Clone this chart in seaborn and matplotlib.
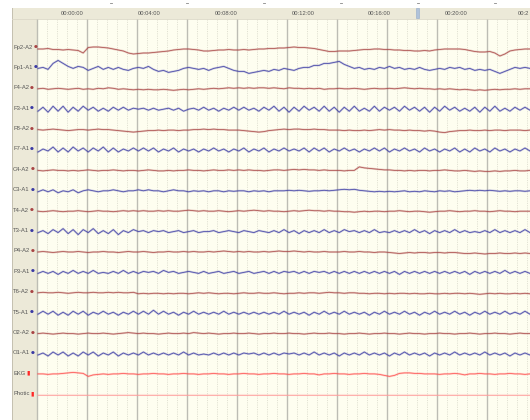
import numpy as np
import pandas as pd
import matplotlib
matplotlib.use('Agg')
import matplotlib.pyplot as plt
import seaborn as sns
from matplotlib.patches import Rectangle

# montage channels, top to bottom
channels = ['Fp2-A2', 'Fp1-A1', 'F4-A2', 'F3-A1', 'F8-A2', 'F7-A1', 'C4-A2', 'C3-A1',
            'T4-A2', 'T3-A1', 'P4-A2', 'P3-A1', 'T6-A2', 'T5-A1', 'O2-A2', 'O1-A1',
            'EKG', 'Photic']

# last one is cut by the right edge in the original
time_labels = ['00:00:00', '00:04:00', '00:08:00', '00:12:00', '00:16:00', '00:20:00', '00:2']

# trace amplitudes (up = positive)
fp2 = [-1, -1, -0.5, -1.5, -1.5, -2, -1.5, -2, -2.5, -5, 0.5, 1, 1, 0.5, 0, -1, -2, -3, -5, -6,
       -5.5, -5, -5, -4.5, -4, -3.5, -3, -2, -1.5, -1, -1, -1.5, -2, -3, -3, -2.5, -2, -2, -1.5, -2,
       -2, -1.5, -2, -1.5, -1, -1, -0.5, -0.5, 0, 0, 0.5, 1, 0.5, 0.5, 0, -0.5, -1.5, -2.5, -3.5, -3.5,
       -3, -3, -3, -2.5, -2, -1.5, -1.5, -1, -1, -1.5, -1.5, -2, -2, -2.5, -2.5, -3, -3, -2.5, -3, -2,
       -1.5, -1, -1, -1, -1, -1.5, -2.5, -3.5, -4, -4, -3.5, -5, -8, -6, -3, -2, -1.5, -1, -1]
fp1 = [0, 1, -1, 5, 8, 5, 2, 0, 2, 1, -2, 0, 2, -1, 1, -1, 1, -1, -2, 0,
       1, 0, 2, -1, -3, -2, -4, -3, -2, 0, 1, 0, -1, 0, -2, 0, 1, 2, 0, -2,
       -3, -3, -5, -4, -3, -2, -3, -1, -2, 0, -1, -2, 0, 1, 1, 3, 3, 5, 5, 6,
       7, 4, 2, 0, 1, -1, 0, -1, 1, 0, 2, 0, 1, -1, 0, -1, 1, -1, -2, -1,
       0, -1, 1, 0, 1, -1, 0, -2, -1, -2, -1, -3, -5, -3, -1, 1, 0, 1, 0]
f4 = [0, 0.5, -0.5, 0, 0.5, 0, -0.5, 0, 0.5, -0.5, 0, -0.5, 0.5, 0, 1, 0.5, -0.5, 0, -0.5, -1,
      -0.5, -1, -0.5, -1, -1, -0.5, -1, -1.5, -1, -0.5, -1, -0.5, 0, -0.5, 0, 0.5, 0, 0.5, 1, 0.5,
      1, 0.5, 1, 0.5, 1, 1, 0.5, 1, 0.5, 0, 1, 0.5, 0.5, 0, 0.5, 0, 0.5, -0.5, 0, 0,
      0.5, 0, 0, 0.5, 0, -0.5, 0, 0.5, 0, 0, 0.5, 0, 0.5, 1, 0.5, 0, 0.5, 0, 0, -0.5,
      0, -0.5, 0, -0.5, -1, -0.5, -1, -1.5, -1, -1.5, -1, -0.5, -1, -0.5, -0.5, 0, -0.5, 0, 0]
f3 = [-2, 2, -3, 3, -2, 3, -3, 2, -2, 3, -1, 2, -2, 1, -2, 2, -1, 2, -1, 1,
      0, 1, -1, 1, -1, 0, 1, -1, 1, -2, 0, 1, -1, 2, -1, 1, -2, 1, -1, 2,
      -1, 2, -1, 1, -2, 2, -1, 3, -2, 2, -3, 2, -2, 3, -1, 2, -2, 3, -2, 2,
      -3, 2, -2, 3, -2, 1, -2, 3, -2, 2, -1, 2, -2, 3, -1, 2, -2, 2, -3, 2,
      -2, 3, -1, 2, -2, 1, -2, 2, -3, 2, -2, 3, -2, 1, -2, 2, -1, 2, -1]
f8 = [0, -0.5, 0, 0.5, 0, -0.5, -1, -0.5, 0, 0, -0.5, 0, 0.5, 0, 0, -0.5, -1, -1.5, -2, -2.5,
      -2, -1.5, -1, -1, -0.5, -1, -0.5, -0.5, -1, -0.5, -0.5, 0, 0, 0.5, 0, 0.5, 0, 0, -0.5, -0.5,
      -0.5, -1, -1.5, -2, -2.5, -2, -1, -0.5, 0, 0.5, 0, 0.5, 0.5, 0, 0, 0.5, 0, 0, -0.5, -0.5,
      -0.5, -1, -0.5, -1, -1, -0.5, -1, -0.5, 0, -0.5, 0, -0.5, -0.5, -1, -0.5, -1, -1, -1.5, -1, -1.5,
      -2.5, -3, -2, -1.5, -1, -1, -0.5, -1, -1, -0.5, -1, -0.5, -0.5, -1, -0.5, -0.5, -0.5, -1, -0.5]
f7 = [-2, 1, -1, 3, -2, 2, -2, 3, -1, 2, -2, 2, -1, 3, -2, 2, -2, 1, -1, 2,
      -1, 2, -1, 2, -2, 1, -1, 2, -2, 1, -1, 1, -2, 1, -1, 2, -1, 1, -2, 1,
      -1, 2, -2, 1, -1, 2, -2, 1, -1, 2, -1, 1, -1, 2, -2, 2, -1, 2, -2, 1,
      -1, 2, -1, 1, -2, 1, -1, 2, -1, 2, -2, 1, -1, 2, -1, 1, -2, 2, -1, 1,
      -2, 1, -1, 2, -2, 1, -2, 2, -1, 1, -2, 2, -1, 1, -2, 1, -1, 2, -1]
c4 = [0, -0.5, 0, 0.5, 0, 0, -0.5, 0, -0.5, 0, 0.5, 0, -0.5, 0, 0, 0.5, 0, -0.5, 0, 0,
      -0.5, 0, 0.5, 0, -0.5, -0.5, 0, -0.5, 0, 0, 0.5, 0, 0, -0.5, 0, 0.5, 0, 0, 0.5, 0,
      0.5, 0, 0.5, 0, 0, -0.5, 0, 0.5, 0.5, 0, 0.5, 1, 0.5, 1, 0.5, 0.5, 0, 0.5, 0, 0,
      0, -0.5, 0, 0, 3.5, 2.5, 2, 1.5, 1, 0.5, 0.5, 0, 0, -0.5, 0, -0.5, 0, 0, -0.5, 0,
      0, 0.5, 0, -0.5, -0.5, 0, -0.5, -1, -0.5, -1, -1, -0.5, -1, -0.5, -0.5, 0, -0.5, -0.5, 0]
c3 = [-1, 1, -1, 1, -2, 0, -1, 1, -2, 0, 1, 0, -1, 0, 0, 1, 0, -1, 0, 0,
      1, 0, 1, 0, 0, -1, 0, 1, 0, 0, -1, 0, -0.5, 0, -1, 0, 0, -1, 0, -0.5,
      0, 0, -1, 0, -0.5, 0, -1, 0, 0, 0, 0.5, 0, 0.5, 0, -0.5, 0, 0, 0.5, 0, 0.5,
      1, 1.5, 1, 1.5, 0.5, 0, -0.5, -1, -0.5, -1, -0.5, -1, -0.5, 0, -1, -0.5, -1, 0, -0.5, -1,
      0, -0.5, 0, -1, -0.5, 0, 0.5, 0, 0.5, 0, 0.5, 0, -0.5, 0, -0.5, 0, 0, -0.5, 0]
t4 = [0, -0.5, 0, 0.5, 0, -0.5, 0, 0, 0.5, 0, -0.5, 0, 0.5, 0, 0, -0.5, 0, 0.5, 0, 0.5,
      0, 0.5, 0, 0, 0.5, 0, 0.5, 0, 0, 0.5, 1, 0.5, 0, 0.5, 0, 0, 0.5, 0, -0.5, 0,
      0.5, 0, 0.5, 1, 0.5, 0, 0.5, 0, 0, -0.5, 0, 0.5, 0, 0.5, 1, 0.5, 0.5, 0, 0.5, 0,
      0, -0.5, -0.5, -1, -0.5, 0, -0.5, 0, 0, -0.5, 0, 0, 0.5, 0, -0.5, 0, 0, -0.5, -1, -0.5,
      0, 0, 0.5, 0, -0.5, 0, 0, 0.5, 0, 0, -0.5, 0, 0.5, 0, 0, -0.5, 0, 0, 0]
t3 = [-1, 1, -2, 2, -1, 3, -2, 2, -3, 2, -1, 3, -2, 1, -2, 2, -3, 1, -1, 2,
      0, 1, -1, 1, 0, 1, -1, 0, 1, -1, 0, 1, -1, 0, 0, 1, -1, 0, 1, 0,
      -1, 1, 0, -1, 1, 0, -1, 1, -1, 2, -1, 1, -2, 1, -1, 1, -1, 2, -1, 1,
      -1, 2, 0, 1, -1, 1, -1, 2, -1, 0, -1, 1, -1, 1, -1, 2, -1, 1, -2, 1,
      -1, 1, -1, 2, -1, 1, -1, 0, -1, 1, -1, 2, -1, 1, -1, 1, -1, 2, -1]
p4 = [0, 0.5, 0, -0.5, 0, 0.5, 0, 0, 0.5, 0, -0.5, 0, 0, 0.5, 0, 0, -0.5, 0, 0.5, 0,
      0, 0.5, 0, -0.5, 0, 0, 0.5, 0, 0, 0.5, 0, 0.5, 0, 0, 0.5, 0, 0.5, 1, 0.5, 0,
      0.5, 0, 0.5, 0, 0, 0.5, 0, 0.5, 1, 0.5, 0.5, 1, 0.5, 0, 0.5, 0, 0, 0.5, 0, 0,
      0, 0.5, 0, 0, 0.5, 0, 0, -0.5, 0, 0, -0.5, -1, -1.5, -1, -0.5, -1, -0.5, -0.5, -1, -0.5,
      -0.5, -1, -0.5, -0.5, -1, -1.5, -1.5, -1, -1.5, -2, -1.5, -1.5, -1, -1.5, -1.5, -1, -1.5, -1, -1.5]
p3 = [-1, 1, -1, 1, -2, 1, -1, 2, -1, 1, -1, 2, -1, 0, -1, 1, -1, 2, -1, 1,
      -1, 1, 0, 1, -1, 2, 0, 1, -1, 0, 1, 0, -1, 1, -1, 0, 1, -1, 0, 1,
      -1, 0, 1, -1, 0, 1, -1, 1, -1, 1, 0, 1, -1, 1, -1, 1, 0, 1, -1, 1,
      -1, 1, -1, 1, -1, 1, -1, 1, -1, 1, -1, 1, -2, 1, -1, 1, -1, 1, -1, 1,
      -1, 1, -1, 1, -1, 1, -2, 1, -1, 1, -1, 1, -1, 2, -1, 1, -1, 1, -1]
t6 = [0, 0.5, 0, 0, 0.5, 0, -0.5, 0, 0.5, 0, 0, 0.5, 0, 0, 0.5, 0, 0.5, 0, 0, 0.5,
      -1, -0.5, -1, -0.5, -0.5, -1, -0.5, -1, -0.5, -0.5, -1, -0.5, 0, -0.5, 0, -0.5, -1, -0.5, -0.5, -1,
      -0.5, 0, -0.5, -0.5, 0, -0.5, -0.5, 0, -0.5, -1, -0.5, -0.5, 0, -0.5, 0, 0, -0.5, 0, 0.5, 0,
      0, -0.5, 0, 0, -0.5, -0.5, -1, -0.5, -0.5, -1, -0.5, -1, -0.5, -0.5, -1, -0.5, -1, -1, -0.5, -1,
      -1, -0.5, -1, -0.5, -0.5, -1, -0.5, -1, -1.5, -1, -0.5, -1, -0.5, -1, -1, -0.5, -1, -0.5, -1]
t5 = [-1, 2, -1, 2, -2, 1, -2, 2, -1, 2, -2, 1, -1, 2, -1, 1, -2, 1, -1, 2,
      -1, 2, -1, 3, -1, 2, -1, 1, -2, 1, -1, 2, -1, 1, -1, 1, -1, 2, -1, 1,
      -1, 1, -1, 1, -1, 1, -1, 1, -1, 2, -1, 1, -1, 1, -2, 1, -1, 2, -1, 1,
      -1, 2, -1, 1, -1, 1, -2, 1, -1, 2, -1, 1, -1, 2, -1, 1, -2, 1, -1, 2,
      -1, 1, -1, 2, -1, 1, -2, 1, -1, 2, -1, 1, -1, 2, -1, 1, -1, 2, -1]
o2 = [0, 0.5, 0, -0.5, 0, 0.5, 0, 0, -0.5, 0, 0.5, 0, 0, 0.5, 0, -0.5, 0, 0.5, 1, 0.5,
      0, 0.5, 0, 0, -0.5, 0, 0.5, 0, 0, 0.5, 0, 1, 0.5, 0, 0.5, 0, -0.5, 0, 0, 0.5,
      0, 0, 0.5, 0, -0.5, 0, 0, 0.5, 0, 0, 0.5, 0, 0, -0.5, 0, 0.5, 0, 0, 0.5, 0,
      0, -0.5, 0, 0, 0.5, 0, -0.5, 0, 0, 0.5, 0, 0, -0.5, 0, 0.5, 0, 0, -0.5, 0, 0,
      0.5, 0, 0, -0.5, 0, 0, 0.5, 0, -0.5, 0, 0, 0.5, 0, 0, -0.5, 0, 0.5, 0, 0]
o1 = [-1, 1, -2, 2, -1, 2, -2, 1, -2, 2, -1, 2, -2, 1, -1, 2, -2, 1, -1, 1,
      -1, 2, -1, 1, -1, 1, -1, 1, -1, 2, -1, 1, -1, 0, -1, 1, -1, 1, -1, 1,
      -1, 1, 0, 1, -1, 1, -1, 1, -1, 1, 0, 1, -1, 1, -1, 2, -1, 1, -1, 1,
      -2, 1, -1, 1, -1, 2, -1, 1, -1, 1, -2, 1, -1, 2, -1, 1, -1, 1, -2, 1,
      -1, 1, -1, 2, -1, 1, -1, 1, -1, 2, -1, 1, -1, 1, -2, 1, -1, 1, -1]
ekg = [0.5, 0.5, 0, 0.5, 0.5, 1, 1.5, 2, 1.5, 1, -2, -0.5, 0, 0.5, 0, 0.5, 0.5, 1, 0.5, 0.5,
       0, 0.5, 0.5, 1, 0.5, 0.5, 0, 0.5, 0.5, 1, 0.5, 0.5, 0, 0.5, 0.5, 1, 0.5, 0.5, 0, 0.5,
       0.5, 1, 0.5, 0.5, 0, 0.5, 0.5, 1, 0.5, 0.5, 0, 0.5, 0.5, 1, 0.5, 0.5, -0.5, 0.5, 0.5, 1,
       0.5, 0.5, 0, 0.5, 0.5, 1, 0.5, 0.5, 0, -1, -2, -1, 1, 1.5, 1.5, 1, 1, 0.5, 0.5, 0.5,
       0, 0.5, 0.5, 1, 0.5, -0.5, 0.5, 0.5, 1, 0.5, 0.5, 0, 0.5, 0.5, 1, 0.5, 0.5, 0, 0.5]
photic = [0, 0]

traces = [fp2, fp1, f4, f3, f8, f7, c4, c3, t4, t3, p4, p3, t6, t5, o2, o1, ekg, photic]

RED, BLUE = '#a84444', '#3a3aa4'
palette = {}
for ch in channels:
    if ch.endswith('A2'):
        palette[ch] = RED
    elif ch.endswith('A1'):
        palette[ch] = BLUE
palette['EKG'] = '#ff4c4c'
palette['Photic'] = '#ff9c9c'

# layout in pixels
X0, X1 = 37, 530
TOP = 19
row_y = [47 + 20.4 * i for i in range(len(channels))]

rows = []
for ch, y0, vals in zip(channels, row_y, traces):
    xs = np.linspace(38, 530, len(vals))
    for x, v in zip(xs, vals):
        rows.append((ch, x, y0 + 1 - v))
df = pd.DataFrame(rows, columns=['channel', 'x', 'y'])

fig = plt.figure(figsize=(5.3, 4.2), dpi=100)
ax = fig.add_axes([0, 0, 1, 1])

# panels
ax.add_patch(Rectangle((12, 8), 530 - 12, TOP - 8, facecolor='#ece9d8', edgecolor='none', zorder=0))
ax.add_patch(Rectangle((12, TOP), X0 - 12, 420 - TOP, facecolor='#ece9d8', edgecolor='none', zorder=0))
ax.add_patch(Rectangle((X0, TOP), X1 - X0, 420 - TOP, facecolor='#fefef0', edgecolor='none', zorder=0))
ax.plot([12, 12], [8, 420], color='#c4c0b0', lw=0.7, zorder=1)
ax.plot([12, 530], [TOP, TOP], color='#dcd8c8', lw=0.6, zorder=1)

# grid
major = [X0 + 50 * k for k in range(10)]
minor = [m + 10 * j for m in major for j in range(1, 5) if m + 10 * j < 530]
ax.vlines(minor, TOP, 420, colors='#dadacb', linestyles=(0, (1.5, 1.5)), lw=0.55, zorder=1)
ax.vlines(major, TOP, 420, colors='#bdbdb4', lw=1.0, zorder=1)

# header ruler
for k, lab in enumerate(time_labels):
    cx = 72 + 76.9 * k
    if k == len(time_labels) - 1:
        ax.text(529, 13.5, lab, ha='right', va='center', fontsize=4.2,
                family='Liberation Sans', color='#555555')
    else:
        ax.text(cx, 13.5, lab, ha='center', va='center', fontsize=4.2,
                family='Liberation Sans', color='#555555')
        ax.plot([cx + 37.5, cx + 39.5], [2.5, 2.5], color='#888888', lw=0.6)
ax.add_patch(Rectangle((415.5, 7.5), 3, 10.5, facecolor='#b0c2da', edgecolor='#94aaca', lw=0.4, zorder=2))

# traces: soft halo + core
sns.lineplot(data=df, x='x', y='y', hue='channel', palette=palette, estimator=None,
             sort=False, legend=False, linewidth=1.5, alpha=0.25, ax=ax, zorder=3)
sns.lineplot(data=df, x='x', y='y', hue='channel', palette=palette, estimator=None,
             sort=False, legend=False, linewidth=0.6, alpha=0.85, ax=ax, zorder=4)

# channel labels with marker
for ch, y0 in zip(channels, row_y):
    t = ax.text(13, y0, ch, ha='left', va='center', fontsize=4.2,
                family='Liberation Sans', color='#555555', zorder=5)
    if ch in ('EKG', 'Photic'):
        ax.annotate('\u25ae', xy=(1, 0.5), xycoords=t, xytext=(0.6, 0), textcoords='offset points',
                    ha='left', va='center', fontsize=4.5, color='#ff2828', zorder=5)
    else:
        ax.annotate('\u25cf', xy=(1, 0.5), xycoords=t, xytext=(0.8, 0), textcoords='offset points',
                    ha='left', va='center', fontsize=3.2, color=palette[ch], zorder=5)

ax.set_xlim(0, 530)
ax.set_ylim(420, 0)
ax.axis('off')
fig.savefig('out.png', dpi=100, facecolor='white')
